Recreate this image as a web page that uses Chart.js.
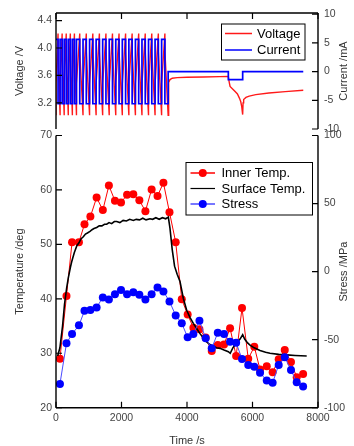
<!DOCTYPE html>
<html><head><meta charset="utf-8">
<script src="https://cdn.jsdelivr.net/npm/chart.js@4"></script>
<style>
html,body{margin:0;padding:0;background:#fff;overflow:hidden}
#wrap{position:relative;width:354px;height:446px}
canvas{position:absolute;left:0;top:0}
</style></head>
<body><div id="wrap"><canvas id="c1" width="354" height="446"></canvas><canvas id="c2" width="354" height="446"></canvas></div>
<script>
// ---------- data: top panel ----------
const cycleBounds = [0,125,250,375,500,625,825,1025,1225,1425,1625,1825,2025,2225,2425,2625,2825,3025,3225,3425];
const cycleVoltLevels = [3.02, 3.48, 4.21, 3.95]; // end-of-discharge, start-of-charge, end-of-charge, start-of-discharge
const cycleCurrent = [5.6, -5.6];                   // charge, discharge
const restVoltTime = [3440,3480,3550,3700,4000,4500,5000,5262,5290,5315,5400,5470,5540,5600,5640,5670,5700,5712,5730,5800,5900,6100,6500,7000,7550];
const restVolt     = [3.50,3.54,3.56,3.568,3.573,3.578,3.583,3.587,3.50,3.44,3.40,3.365,3.33,3.27,3.22,3.15,3.03,3.20,3.25,3.28,3.30,3.32,3.345,3.365,3.385];
const restCurTime  = [3425,5262,5262,5700,5700,7550];
const restCur      = [0,0,-1.4,-1.4,0,0];

// ---------- data: bottom panel ----------
const sampleTime = [120,320,490,700,870,1050,1240,1430,1615,1800,1985,2170,2360,2545,2730,2920,3100,3280,3465,3655,3840,4020,4195,4380,4570,4755,4940,5130,5315,5500,5680,5870,6055,6230,6435,6615,6800,6985,7175,7350,7545];
const innerTemp = [29.0,40.5,50.4,50.4,53.7,55.1,58.6,56.3,60.8,58.0,57.7,59.1,59.2,58.1,56.1,60.1,58.9,61.3,55.9,50.4,39.9,37.1,34.7,34.4,32.9,30.4,31.5,31.6,34.6,29.5,38.3,29.0,31.2,27.0,27.6,26.5,28.9,30.6,28.4,25.6,26.2];
const stress = [-82.6,-52.7,-45.9,-39.5,-28.8,-28.3,-26.3,-19.0,-20.5,-16.6,-13.6,-16.6,-15.1,-17.1,-20.5,-16.6,-11.7,-14.6,-21.9,-32.2,-38.0,-48.3,-45.9,-36.1,-49.0,-56.4,-44.9,-45.9,-51.5,-52.3,-64.2,-68.6,-69.9,-74.3,-80.1,-81.6,-68.6,-63.0,-72.3,-81.3,-84.5];
const surfTime = [50,120,200,260,326,380,440,479,560,640,702,760,834,900,960,1038,1100,1160,1242,1320,1400,1480,1548,1620,1700,1780,1853,1950,2050,2150,2250,2361,2450,2550,2650,2750,2870,2950,3050,3150,3250,3350,3430,3480,3550,3620,3700,3786,3887,3990,4090,4193,4300,4397,4500,4601,4700,4804,4900,5008,5130,5262,5320,5400,5500,5620,5700,5760,5850,5924,6050,6229,6400,6534,6800,7044,7300,7655];
const surfTemp = [29.5,31.0,35.0,39.0,42.0,44.0,45.8,46.8,48.5,49.8,50.3,51.0,51.4,51.9,52.1,52.4,52.7,52.9,53.1,53.4,53.4,53.7,53.7,54.0,53.8,54.2,54.2,54.0,54.4,54.3,54.6,54.4,54.6,54.5,54.8,54.5,54.7,54.6,54.9,54.6,54.9,54.7,55.0,53.0,49.0,46.0,44.5,43.2,40.1,37.9,36.6,35.5,34.5,33.6,32.8,32.1,31.6,31.3,31.0,30.9,30.6,30.3,30.0,31.0,31.8,32.6,33.4,32.6,31.9,31.5,31.0,30.5,30.2,30.0,29.8,29.7,29.6,29.5];

// ---------- tick labels ----------
const xTicks = [0,2000,4000,6000,8000];
const voltTicks = [3.2,3.6,4.0,4.4];
const currTicks = [-10,-5,0,5,10];
const tempTicks = [20,30,40,50,60,70];
const stressTicks = [-100,-50,0,50,100];

// ---------- build point tables ----------
const voltPts = [{x:0,y:cycleVoltLevels[0]}];
const curPts = [];
for (let i=0;i<cycleBounds.length-1;i++){
  const s=cycleBounds[i], e=cycleBounds[i+1], m=(s+e)/2;
  voltPts.push({x:s,y:cycleVoltLevels[1]},{x:m,y:cycleVoltLevels[2]},{x:m,y:cycleVoltLevels[3]},{x:e,y:cycleVoltLevels[0]});
  curPts.push({x:s,y:cycleCurrent[0]},{x:m,y:cycleCurrent[0]},{x:m,y:cycleCurrent[1]},{x:e,y:cycleCurrent[1]});
}
restVoltTime.forEach((t,i)=>voltPts.push({x:t,y:restVolt[i]}));
restCurTime.forEach((t,i)=>curPts.push({x:t,y:restCur[i]}));
const innerPts = sampleTime.map((t,i)=>({x:t,y:innerTemp[i]}));
const stressPts = sampleTime.map((t,i)=>({x:t,y:stress[i]}));
const surfPts = surfTime.map((t,i)=>({x:t,y:surfTemp[i]}));

const FONT = '"Liberation Sans", Arial, sans-serif';
const tickFont = {family:FONT, size:10.5};
const tickColor = '#444';

const framePlugin = {
  id:'frame',
  afterDraw(chart, args, o){
    const ctx=chart.ctx, a=chart.chartArea;
    ctx.save();
    ctx.strokeStyle='#000'; ctx.lineWidth=1.4; ctx.lineCap='butt';
    ctx.beginPath();
    o.spines.forEach(s=>{
      if(s==='left'){ctx.moveTo(a.left,a.top);ctx.lineTo(a.left,a.bottom);}
      if(s==='right'){ctx.moveTo(a.right,a.top);ctx.lineTo(a.right,a.bottom);}
      if(s==='top'){ctx.moveTo(a.left,a.top);ctx.lineTo(a.right,a.top);}
      if(s==='bottom'){ctx.moveTo(a.left,a.bottom);ctx.lineTo(a.right,a.bottom);}
    });
    ctx.stroke();
    ctx.lineWidth=1.2;
    ctx.beginPath();
    o.ticks.forEach(t=>{
      const sc=chart.scales[t.scale];
      t.values.forEach(v=>{
        const p=sc.getPixelForValue(v);
        if(t.side==='left'){ctx.moveTo(a.left,p);ctx.lineTo(a.left+6,p);}
        if(t.side==='right'){ctx.moveTo(a.right,p);ctx.lineTo(a.right-6,p);}
        if(t.side==='top'){ctx.moveTo(p,a.top);ctx.lineTo(p,a.top+6);}
        if(t.side==='bottom'){ctx.moveTo(p,a.bottom);ctx.lineTo(p,a.bottom-6);}
      });
    });
    ctx.stroke();
    // axis titles
    ctx.fillStyle='#333';
    ctx.font='11px '+FONT;
    ctx.textAlign='center'; ctx.textBaseline='middle';
    o.titles.forEach(t=>{
      ctx.save();
      ctx.translate(t.x, t.y==null ? (a.top+a.bottom)/2 : t.y);
      if(t.rot) ctx.rotate(-Math.PI/2);
      ctx.fillText(t.text,0,0);
      ctx.restore();
    });
    // legend
    const L=o.legend;
    ctx.lineWidth=1; ctx.strokeStyle='#000';
    ctx.strokeRect(L.box[0],L.box[1],L.box[2],L.box[3]);
    ctx.font='13px '+FONT; ctx.textAlign='left'; ctx.fillStyle='#000';
    L.items.forEach(it=>{
      const ds=chart.data.datasets[it.ds];
      ctx.strokeStyle=ds.borderColor; ctx.lineWidth=it.lw||1.5;
      ctx.beginPath(); ctx.moveTo(L.lineX[0],it.y); ctx.lineTo(L.lineX[1],it.y); ctx.stroke();
      if(ds.pointRadius>0){
        ctx.fillStyle=ds.pointBackgroundColor;
        ctx.beginPath(); ctx.arc((L.lineX[0]+L.lineX[1])/2,it.y,ds.pointRadius,0,Math.PI*2); ctx.fill();
      }
      ctx.fillStyle='#000';
      ctx.fillText(ds.label,L.textX,it.y+0.5);
    });
    ctx.restore();
  }
};

function yAxis(pos,min,max,vals,width,fmt,pad){
  return {
    type:'linear', position:pos, min:min, max:max,
    afterBuildTicks:s=>{s.ticks=vals.map(v=>({value:v}));},
    ticks:{font:tickFont,color:tickColor,padding:pad,callback:fmt},
    grid:{display:false,drawTicks:false}, border:{display:false},
    afterFit:s=>{s.width=width;}
  };
}

new Chart(document.getElementById('c1'),{
  type:'line',
  data:{datasets:[
    {label:'Voltage',data:voltPts,yAxisID:'yV',borderColor:'rgba(255,0,0,0.9)',borderWidth:1.4,pointRadius:0,tension:0,order:1},
    {label:'Current',data:curPts,yAxisID:'yI',borderColor:'#0000ff',borderWidth:1.7,pointRadius:0,tension:0,order:0}
  ]},
  options:{
    responsive:false, animation:false, events:[],
    layout:{padding:{top:13,bottom:317,left:0,right:0}},
    plugins:{legend:{display:false},tooltip:{enabled:false},
      frame:{
        spines:['left','right','top'],
        ticks:[{scale:'x',side:'top',values:xTicks},{scale:'yV',side:'left',values:voltTicks},{scale:'yI',side:'right',values:currTicks}],
        titles:[{text:'Voltage /V',x:20,rot:true},{text:'Current /mA',x:344,rot:true}],
        legend:{box:[221.5,24,83.5,36],lineX:[225,252],textX:257,items:[{ds:0,y:33.5},{ds:1,y:50}]}
      }},
    scales:{
      x:{type:'linear',min:0,max:8000,display:false},
      yV:yAxis('left',2.82,4.51,voltTicks,56,v=>v.toFixed(1),4),
      yI:yAxis('right',-10,10.2,currTicks,36,v=>String(v),6)
    }
  },
  plugins:[framePlugin]
});

new Chart(document.getElementById('c2'),{
  type:'line',
  data:{datasets:[
    {label:'Inner Temp.',data:innerPts,yAxisID:'yT',borderColor:'#ff0000',borderWidth:1,pointRadius:4,pointBackgroundColor:'#ff0000',pointBorderWidth:0,pointBorderColor:'#ff0000',tension:0,order:2},
    {label:'Surface Temp.',data:surfPts,yAxisID:'yT',borderColor:'#000000',borderWidth:1.6,pointRadius:0,tension:0,order:1},
    {label:'Stress',data:stressPts,yAxisID:'yS',borderColor:'#4a4aff',borderWidth:1,pointRadius:4,pointBackgroundColor:'#0000ff',pointBorderWidth:0,pointBorderColor:'#0000ff',tension:0,order:0}
  ]},
  options:{
    responsive:false, animation:false, events:[],
    layout:{padding:{top:135.5,bottom:0,left:0,right:0}},
    plugins:{legend:{display:false},tooltip:{enabled:false},
      frame:{
        spines:['left','right','bottom'],
        ticks:[{scale:'x',side:'bottom',values:xTicks},{scale:'yT',side:'left',values:tempTicks},{scale:'yS',side:'right',values:stressTicks}],
        titles:[{text:'Temperature /deg',x:20,rot:true},{text:'Stress /MPa',x:344,rot:true},{text:'Time /s',x:187,y:441,rot:false}],
        legend:{box:[186,162.5,126.5,52.5],lineX:[190.5,215],textX:221.5,items:[{ds:0,y:173},{ds:1,y:188.5,lw:1.2},{ds:2,y:204}]}
      }},
    scales:{
      x:{type:'linear',position:'bottom',min:0,max:8000,
        afterBuildTicks:s=>{s.ticks=xTicks.map(v=>({value:v}));},
        ticks:{font:tickFont,color:tickColor,padding:4,maxRotation:0,callback:v=>String(v)},
        grid:{display:false,drawTicks:false},border:{display:false},
        afterFit:s=>{s.height=38.3;}},
      yT:yAxis('left',20,70,tempTicks,56,v=>String(v),4),
      yS:yAxis('right',-100,100,stressTicks,36,v=>String(v),6)
    }
  },
  plugins:[framePlugin]
});
</script>
</body></html>
